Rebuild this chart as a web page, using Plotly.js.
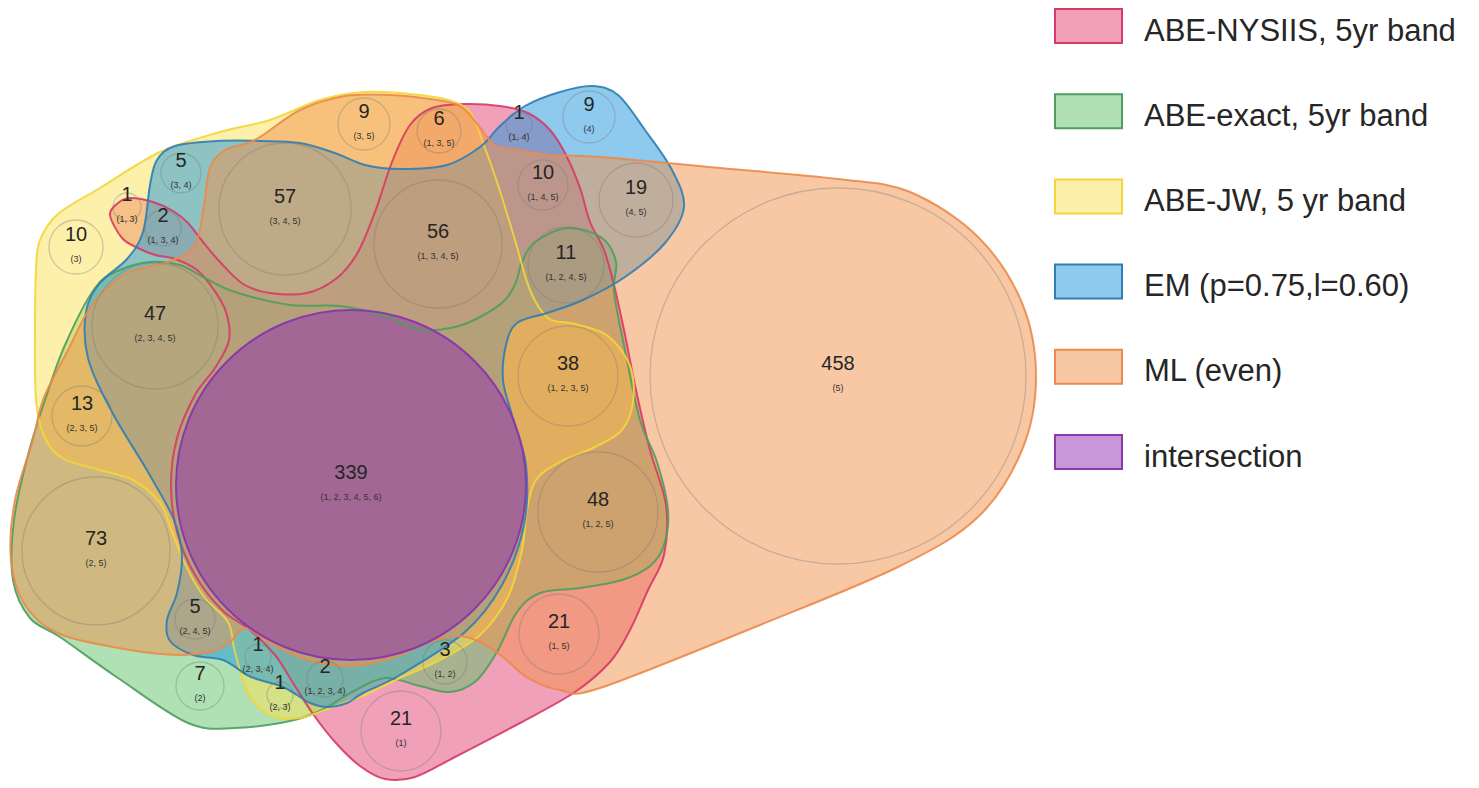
<!DOCTYPE html>
<html>
<head>
<meta charset="utf-8">
<script src="https://cdn.plot.ly/plotly-3.0.1.min.js"></script>
<style>html,body{margin:0;padding:0;background:#fff;overflow:hidden}</style>
</head>
<body>
<div id="chart" style="width:1479px;height:788px"></div>
<script>
// ---------- DATA ----------
const setNames = ["ABE-NYSIIS, 5yr band", "ABE-exact, 5yr band", "ABE-JW, 5 yr band", "EM (p=0.75,l=0.60)", "ML (even)", "intersection"];
const counts = [339, 458, 73, 57, 56, 48, 47, 38, 19, 13, 10, 21, 21, 11, 10, 9, 9, 6, 1, 5, 1, 2, 5, 1, 1, 2, 3, 7];
const memberships = ["1, 2, 3, 4, 5, 6", "5", "2, 5", "3, 4, 5", "1, 3, 4, 5", "1, 2, 5", "2, 3, 4, 5", "1, 2, 3, 5", "4, 5", "2, 3, 5", "3", "1, 5", "1", "1, 2, 4, 5", "1, 4, 5", "4", "3, 5", "1, 3, 5", "1, 4", "3, 4", "1, 3", "1, 3, 4", "2, 4, 5", "2, 3, 4", "2, 3", "1, 2, 3, 4", "1, 2", "2"];

// ---------- LAYOUT GEOMETRY (pixel space) ----------
const circleX = [351, 838, 96, 285, 438, 598, 155, 568, 636, 82, 76, 559, 401, 566, 543, 589, 364, 439, 519, 181, 127, 163, 195, 258, 280, 325, 445, 200];
const circleY = [485, 376, 551, 209, 244, 512, 326, 376, 200, 416, 247, 634, 731, 265, 185, 117, 124, 131, 125, 173, 207, 228, 619, 657, 695, 679, 662, 686];
const circleR = [175, 188, 74, 66, 64, 60, 63, 50, 37, 30, 27, 40, 40, 38, 25, 26, 26, 22, 13, 20, 14, 18, 20, 13, 13, 18, 22, 24];

const outline1 = [[110,215],[118,203],[130,198],[153,202],[173,211],[188,223],[203,242],[220,262],[243,284],[270,293],[307,293],[337,278],[358,252],[375,212],[392,162],[410,125],[432,108],[465,104],[500,106],[528,113],[550,130],[566,155],[580,188],[590,222],[604,250],[614,285],[624,330],[636,390],[650,450],[666,505],[664,555],[648,590],[630,630],[610,662],[575,692],[520,723],[455,757],[415,777],[385,779],[360,766],[335,742],[313,714],[293,683],[275,655],[250,630],[222,610],[195,575],[177,532],[171,485],[177,438],[195,395],[215,368],[229,340],[226,312],[214,290],[197,270],[175,259],[155,255],[138,248],[122,238]];
const outline2 = [[95,288],[120,270],[150,262],[180,265],[205,278],[235,292],[290,305],[340,306],[385,316],[420,330],[455,327],[482,316],[505,300],[516,282],[522,262],[535,242],[568,228],[602,238],[616,262],[614,292],[625,350],[640,420],[657,462],[668,510],[664,545],[650,566],[622,580],[580,588],[540,593],[517,612],[497,652],[476,681],[450,692],[420,686],[385,678],[352,692],[322,710],[290,721],[235,728],[188,723],[118,678],[60,637],[30,618],[13,580],[14,520],[28,455],[45,400],[65,345]];
const outline3 = [[40,240],[58,214],[100,188],[160,152],[220,132],[270,120],[320,100],[365,92],[410,94],[448,100],[470,112],[482,140],[498,185],[515,240],[530,290],[548,318],[575,324],[608,336],[630,366],[633,402],[622,430],[595,447],[560,462],[536,480],[527,510],[522,550],[508,597],[480,635],[440,660],[400,678],[365,695],[330,708],[300,718],[272,716],[252,700],[242,677],[234,648],[228,622],[205,598],[188,570],[172,532],[160,503],[133,480],[100,470],[62,458],[44,436],[36,400],[35,330],[36,270]];
const outline4 = [[150,185],[157,160],[175,146],[217,141],[263,141],[300,143],[335,153],[365,165],[400,169],[447,165],[480,147],[500,126],[525,106],[560,92],[592,86],[618,95],[645,130],[672,170],[684,207],[665,243],[625,277],[583,300],[547,313],[517,323],[506,345],[503,380],[512,415],[526,465],[524,525],[502,585],[465,632],[400,675],[363,693],[347,703],[327,707],[310,703],[297,695],[283,687],[260,680],[247,675],[223,660],[193,655],[170,641],[167,620],[177,593],[182,557],[174,520],[148,472],[112,412],[88,358],[86,312],[100,283],[127,259],[143,232]];
const outline5 = [[255,140],[300,110],[345,96],[390,95],[430,99],[460,106],[478,125],[495,145],[520,150],[548,155],[600,157],[720,168],[838,179],[910,192],[978,237],[1022,303],[1036,377],[1022,450],[978,517],[900,566],[760,625],[600,688],[560,690],[528,678],[503,657],[480,642],[458,636],[430,642],[395,657],[351,666],[305,659],[268,642],[245,628],[228,644],[210,652],[180,655],[130,650],[60,634],[25,605],[11,560],[15,500],[33,440],[43,400],[68,350],[92,305],[125,274],[168,262],[195,245],[204,205],[210,168],[225,150]];
const outlines = [outline1, outline2, outline3, outline4, outline5];

// ---------- STYLE ----------
const fills = ["rgba(225,65,115,0.5)", "rgba(95,195,105,0.5)", "rgba(249,225,85,0.5)", "rgba(30,150,220,0.5)", "rgba(241,145,75,0.5)", "rgba(145,45,180,0.5)"];
const strokes = ["#d83a66", "#4f9e5e", "#f4d63a", "#2f7fb4", "#ec8a4c", "#8a3aa8"];
const FONT = "Liberation Sans, Arial, sans-serif";

function smoothPath(pts) {
  const n = pts.length;
  let d = "M" + pts[0][0] + "," + pts[0][1];
  for (let i = 0; i < n; i++) {
    const p0 = pts[(i - 1 + n) % n], p1 = pts[i], p2 = pts[(i + 1) % n], p3 = pts[(i + 2) % n];
    const c1x = p1[0] + (p2[0] - p0[0]) / 6, c1y = p1[1] + (p2[1] - p0[1]) / 6;
    const c2x = p2[0] - (p3[0] - p1[0]) / 6, c2y = p2[1] - (p3[1] - p1[1]) / 6;
    d += " C" + c1x.toFixed(1) + "," + c1y.toFixed(1) + " " + c2x.toFixed(1) + "," + c2y.toFixed(1) + " " + p2[0] + "," + p2[1];
  }
  return d + " Z";
}

const shapes = [];
// fills
outlines.forEach((pts, k) => {
  shapes.push({type: "path", xref: "x", yref: "y", path: smoothPath(pts), fillcolor: fills[k], line: {width: 0, color: "rgba(0,0,0,0)"}, layer: "below"});
});
// intersection circle fill (index 0 is the 6-set region)
shapes.push({type: "circle", xref: "x", yref: "y", x0: circleX[0] - circleR[0], x1: circleX[0] + circleR[0], y0: circleY[0] - circleR[0], y1: circleY[0] + circleR[0], fillcolor: fills[5], line: {width: 0, color: "rgba(0,0,0,0)"}, layer: "below"});
// strokes
outlines.forEach((pts, k) => {
  shapes.push({type: "path", xref: "x", yref: "y", path: smoothPath(pts), fillcolor: "rgba(0,0,0,0)", line: {width: 2, color: strokes[k]}, opacity: 0.9, layer: "below"});
});
shapes.push({type: "circle", xref: "x", yref: "y", x0: circleX[0] - circleR[0], x1: circleX[0] + circleR[0], y0: circleY[0] - circleR[0], y1: circleY[0] + circleR[0], fillcolor: "rgba(0,0,0,0)", line: {width: 2, color: strokes[5]}, layer: "below"});
// region circles
for (let i = 0; i < counts.length; i++) {
  if (i === 0) continue;
  shapes.push({type: "circle", xref: "x", yref: "y", x0: circleX[i] - circleR[i], x1: circleX[i] + circleR[i], y0: circleY[i] - circleR[i], y1: circleY[i] + circleR[i], fillcolor: "rgba(0,0,0,0)", line: {width: 1.3, color: "rgba(120,120,120,0.35)"}, layer: "below"});
}

// legend (manual)
const annotations = [];
const legX0 = 1055, legX1 = 1122, legTop = 9, legStep = 85.2, legH = 34;
setNames.forEach((name, k) => {
  const y0 = legTop + k * legStep;
  shapes.push({type: "rect", xref: "x", yref: "y", x0: legX0, x1: legX1, y0: y0, y1: y0 + legH, fillcolor: fills[k], line: {width: 2, color: strokes[k]}, layer: "above"});
  annotations.push({x: 1142, y: y0 + legH / 2 + 4, xref: "x", yref: "y", text: name, showarrow: false, xanchor: "left", yanchor: "middle", font: {family: FONT, size: 31, color: "#262626"}});
});

const traces = [
  {type: "scatter", mode: "text", x: circleX, y: circleY.map((v) => v - 11), text: counts.map(String), textposition: "middle center", textfont: {family: FONT, size: 20, color: "#262626"}, hoverinfo: "skip", showlegend: false},
  {type: "scatter", mode: "text", x: circleX, y: circleY.map((v) => v + 13), text: memberships.map((m) => "(" + m + ")"), textposition: "middle center", textfont: {family: FONT, size: 9, color: "#333333"}, hoverinfo: "skip", showlegend: false}
];

const layout = {
  width: 1479, height: 788,
  margin: {l: 0, r: 0, t: 0, b: 0, pad: 0},
  paper_bgcolor: "#ffffff", plot_bgcolor: "#ffffff",
  xaxis: {range: [0, 1479], visible: false, fixedrange: true, showgrid: false, zeroline: false},
  yaxis: {range: [788, 0], visible: false, fixedrange: true, showgrid: false, zeroline: false},
  shapes: shapes, annotations: annotations, showlegend: false
};

Plotly.newPlot("chart", traces, layout, {displayModeBar: false, staticPlot: true});
</script>
</body>
</html>
